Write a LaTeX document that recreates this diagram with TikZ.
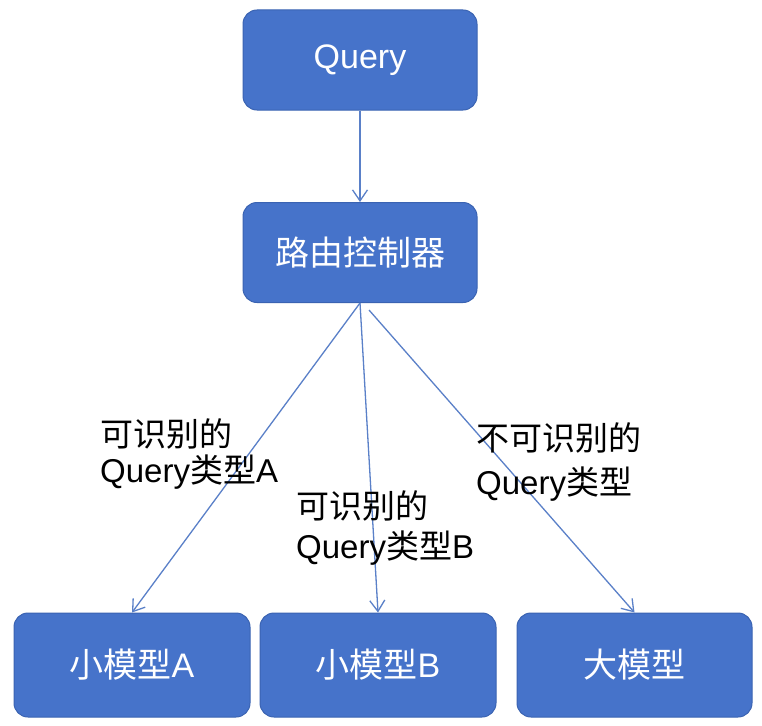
\documentclass[tikz,border=0pt]{standalone}
\usepackage{fontspec}
\setmainfont{Liberation Sans}
\newfontfamily\cjk{Noto Sans CJK SC}
\usetikzlibrary{arrows.meta}
\definecolor{boxblue}{HTML}{4673CA}
\definecolor{boxedge}{HTML}{3A63B2}
\definecolor{lineblue}{HTML}{5A80C8}
\tikzset{
  box/.style={draw=boxedge, line width=1pt, fill=boxblue, rounded corners=14pt, text=white, font=\fontsize{34}{40}\selectfont, inner sep=0pt},
  conn/.style={draw=lineblue, line width=1.3pt, -{Straight Barb[length=11pt,width=15pt,line width=1.3pt]}},
  lbl/.style={font=\fontsize{33}{40}\selectfont, align=left, anchor=north west, inner sep=0pt, text=black}
}
\begin{document}
\begin{tikzpicture}[x=1pt,y=-1pt]
\fill[white] (0,0) rectangle (762,725);
\useasboundingbox (0,0) rectangle (762,725);
\node[box, minimum width=234pt, minimum height=100pt] (q) at (360,60) {Query};
\node[box, minimum width=234pt, minimum height=100pt] (r) at (360,252.5) {\cjk 路由控制器};
\node[box, minimum width=236pt, minimum height=104pt] (a) at (132,665) {{\cjk 小模型}A};
\node[box, minimum width=236pt, minimum height=104pt] (b) at (378,665) {{\cjk 小模型}B};
\node[box, minimum width=235pt, minimum height=104pt] (l) at (634.5,665) {\cjk 大模型};
\coordinate (ra) at (360,303);
\coordinate (rl) at (369,310);
\draw[conn] (q.south) -- (r.north);
\draw[conn] (ra) -- (a.north);
\draw[conn] (ra) -- (b.north);
\draw[conn] (rl) -- (l.north);
\node[lbl] (la) at (100,418) {{\cjk 可识别的}\\[-4pt]Query{\cjk 类型}A};
\node[lbl] (lb) at (296,490) {{\cjk 可识别的}\\[0pt]Query{\cjk 类型}B};
\node[lbl] (ll) at (476,422) {{\cjk 不可识别的}\\[4pt]Query{\cjk 类型}};
\end{tikzpicture}
\end{document}
